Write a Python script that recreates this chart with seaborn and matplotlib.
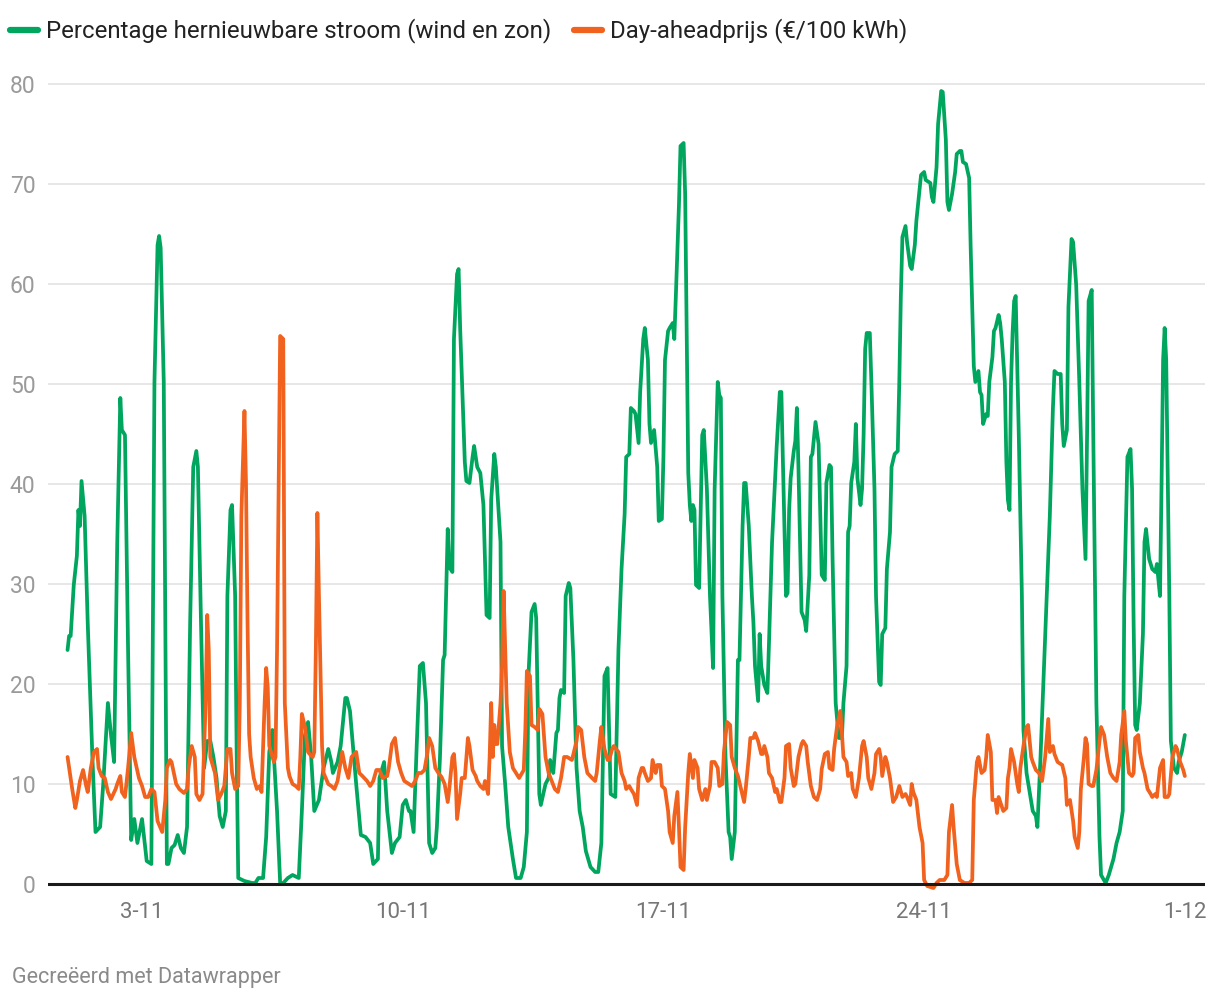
import matplotlib
matplotlib.use("Agg")
import matplotlib.pyplot as plt
import seaborn as sns
import pandas as pd
import numpy as np

# ---------------- data (hours since 1 Nov 00:00) ----------------
start = pd.Timestamp("2023-11-01 00:00")

green_hours = [0,1,2,4,6,7,8,9,11,13,16,18,21,23,26,28,30,32,34,35,37,39,41,43,45,48,51,54,56,58,59,60,62,64,65,67,69,71,73,75,77,79,81,83,84,86,88,90,92,94,96,98,100,102,103,105,106,108,109,110,114,119,121,123,126,128,130,132,135,137,139,142,145,149,151,153,155,157,159,162,165,168,170,171,174,176,179,180,182,186,189,192,195,197,200,201,204,206,209,211,214,216,218,220,221,223,225,227,229,231,233,235,237,238,240,242,243,245,246,248,249,251,252,253,256,257,259,261,262,264,266,268,270,272,273,275,276,279,280,282,284,287,289,292,294,296,297,299,301,302,304,305,308,310,311,313,315,316,317,318,320,321,323,324,326,328,330,332,334,337,340,342,344,346,348,350,353,355,357,359,360,362,363,365,366,368,369,371,372,374,375,376,378,380,381,383,384,385,387,388,390,391,392,394,395,397,398,400,401,402,403,404,405,407,409,410,412,414,416,417,419,420,421,422,424,426,427,428,430,432,433,435,436,437,439,441,442,443,445,446,447,449,451,452,454,457,459,460,461,463,464,465,466,468,469,470,471,473,475,476,478,479,480,482,484,486,488,489,491,492,493,495,497,499,500,502,503,504,505,507,508,509,511,512,513,514,515,517,518,520,521,523,524,525,527,528,530,531,533,535,536,537,538,540,541,543,544,546,547,549,550,552,553,556,557,558,560,561,563,564,566,567,568,570,572,573,575,576,577,579,581,582,584,585,587,588,589,590,592,593,594,596,597,598,600,601,602,604,605,606,607,608,609,610,611,613,615,616,618,620,622,624,625,627,629,631,633,635,636,638,640,641,642,644,645,647,648,650,652,654,656,657,658,660,661,663,665,666,669,671,674,676,678,680,681,683,685,686,687,688,689,691,693,694,695,697,699,701,702,704,705,706,707,708,710,711,713,715,716,718,720]
green_values = [23.4,24.8,24.8,29.9,32.8,37.4,35.8,40.3,36.8,26.1,12.7,5.2,5.7,10,18.1,14.9,12.2,34,48.6,45.4,44.9,23.4,4.4,6.5,4.1,6.5,2.3,2.0,50.2,63.9,64.8,63.6,50.2,2,2,3.6,3.9,4.9,3.6,3.1,5.7,26.1,41.7,43.3,41.7,26.1,11.6,14.3,14.3,12.7,10.6,6.8,5.7,7.3,28.8,37.4,37.9,28.8,12.7,0.6,0.3,0.1,0.1,0.6,0.6,4.7,13.2,15.4,7.3,0.1,0.1,0.6,0.9,0.6,7.3,14.9,16.2,12.7,7.3,8.4,11.6,13.5,12.2,11.1,12.2,13.8,18.6,18.6,17.3,10,4.9,4.7,4.1,2,2.5,10.6,12.2,7.3,3.1,4.1,4.7,7.9,8.4,7.3,7.3,5.2,13.8,21.8,22.1,18.1,4.1,3.1,3.6,5.7,12.7,22.4,22.9,35.5,31.7,31.2,54.5,61,61.5,55.6,42.2,40.3,40.1,42.7,43.8,41.7,41.1,37.9,26.9,26.6,38.4,43,41.7,34.2,13.8,10,5.7,2.5,0.6,0.6,1.7,5.2,20.8,27.2,28,26.6,9,7.9,10,10.6,12.4,11.1,15.1,15.4,18.6,19.4,19.1,28.8,30.1,29.6,22.4,11.6,7.3,5.7,3.3,1.7,1.2,1.2,4.1,20.8,21.6,9,8.7,23.4,31.5,37,42.7,43,47.6,47.3,47,44.1,49.2,54.5,55.6,52.4,46,44.1,45.4,41.7,36.3,36.5,42.7,52.4,55.3,55.6,56.1,54.5,58.8,67.9,73.8,74.1,69,41.1,37.9,36.3,37.9,37.4,29.9,29.6,44.9,45.4,39.5,28.8,21.6,39.5,50.2,48.9,48.6,28.8,12.7,5.2,4.7,2.5,5.2,22.4,22.4,35.8,40.1,40.1,35.8,28.8,26.1,21.8,18.3,25,21.8,19.9,19.1,24,34.2,43.8,49.2,49.2,42.2,28.8,29.1,37.4,40.6,43.3,44.3,47.6,41.7,27.2,26.4,25.3,30.9,42.7,43,46.2,44,30.9,30.4,40.1,41.9,41.7,32.5,18.1,14.6,14.6,18.1,21.8,35.2,35.8,40.1,42.2,46,40.6,37.9,39.5,44.9,53.5,55.1,55.1,50.2,39.5,28.8,20.2,19.9,25,25.6,31.5,35.2,41.7,43,43.3,50.2,58.8,64.7,65.8,64.2,61.8,61.5,63.9,66.3,69.3,70.9,71.2,70.4,70.1,68.7,68.2,71.7,76,79.3,79.2,74.4,68.2,67.4,69,71.2,73,73.3,73.3,72.2,72,70.6,63.6,51.8,50.2,51.3,49.2,48.9,46,47,46.8,50.2,52.7,55.3,55.6,56.9,56.1,54.5,50.2,42.2,38.4,37.4,50.2,55.1,58.3,58.8,44.9,28.8,15.4,11.1,9.2,7.3,6.8,5.7,12.7,20.8,28.8,36.8,47.6,51.3,51,51,46,43.8,45.4,57.7,64.5,64.2,59.9,50.2,39.5,32.5,44.9,58.3,59.4,44.9,18.1,4.7,0.9,0.1,0.9,2.5,4.1,5.2,7.3,28.8,42.7,43.5,39.5,26.1,15.9,15.4,18.1,25,34.2,35.5,32.5,31.5,31.2,32,28.8,40,52.4,55.6,52.4,28.8,14.3,11.6,11.1,12.2,13.2,14.9]

price_hours = [0,3,5,6,8,10,12,13,15,17,19,20,22,24,26,28,31,32,34,35,37,39,41,43,46,48,50,52,54,56,58,61,63,64,66,67,70,72,75,77,78,80,82,83,85,87,89,90,91,92,95,97,99,101,103,105,106,108,110,111,112,114,115,116,117,118,120,122,124,125,127,128,129,130,133,134,135,136,137,139,140,142,143,145,147,149,150,151,153,155,156,158,159,160,161,162,164,165,168,170,172,174,177,179,181,183,186,188,190,193,195,197,199,201,203,206,207,209,211,213,215,217,220,222,224,226,228,230,232,233,235,237,239,241,243,245,246,248,249,250,251,253,254,256,258,259,261,263,264,266,268,269,271,272,273,274,275,276,277,279,280,281,283,285,287,289,291,294,295,296,298,299,301,303,304,306,308,310,312,314,316,318,319,320,322,325,326,328,329,331,333,335,338,340,341,343,344,346,348,349,351,352,355,357,359,360,362,363,365,367,368,370,371,372,374,376,377,379,380,382,383,385,387,388,390,391,393,394,395,397,398,400,401,403,404,406,407,409,411,412,414,415,417,419,420,422,423,425,427,428,430,432,434,436,437,439,440,442,443,445,447,448,449,451,452,454,456,457,459,460,462,463,465,466,468,469,471,473,474,476,477,479,481,483,485,486,488,490,491,493,494,496,498,499,500,502,503,505,506,508,510,512,513,515,516,518,520,521,523,524,525,527,528,530,532,534,536,538,540,541,543,544,545,547,549,551,552,554,558,560,562,565,567,568,570,571,573,575,578,581,583,584,586,587,589,591,592,593,595,596,598,599,600,603,605,606,607,608,610,612,613,614,616,618,619,621,622,624,626,628,630,632,633,635,636,638,641,643,644,646,648,649,651,652,653,655,656,657,658,660,661,663,665,666,668,670,672,674,676,678,679,681,682,684,686,687,688,690,691,693,694,696,698,699,701,702,704,706,707,709,710,712,714,715,717,719,720]
price_values = [12.7,9.5,7.6,8.4,10.3,11.4,9.8,9.2,11.6,13.2,13.5,11.6,10.8,10.6,9.2,8.5,9.5,10,10.8,9.2,8.7,11.6,15.1,12.7,10.6,9.8,8.7,8.7,9.5,9.2,6.3,5.2,8.4,11.6,12.4,12.2,10,9.5,9.1,9.5,11.6,13.8,12.7,9,8.4,9,18.1,26.9,23.4,12.7,11.1,8.4,9,9.8,13.5,13.5,11.1,9.5,9.8,18.1,36.8,47.3,40,26,15,12.7,10.6,9.5,9.8,9.2,18.1,21.6,19.7,13.8,12.2,12.7,23.4,39.5,54.8,54.5,18.1,11.6,10.8,10,9.8,9.5,12.7,17,15.7,13.2,13,12.7,13.2,23.4,37.1,28.8,13.8,11.1,10,9.8,9.5,10.3,13.2,11.6,10.6,12.7,13.2,11.1,10.8,10.3,9.8,10.3,11.4,11.4,10.6,10.8,11.6,14,14.6,12.2,11.1,10.3,10,9.8,10.3,11.1,11.1,11.4,13.2,14.6,13.8,11.6,11.1,10.7,10,8.2,9.5,12.7,13,11.1,6.5,9,10.6,10.6,14.6,13.8,11.4,10.8,10.3,9.8,9.5,10.3,9,12.7,18.1,12.7,15.9,14,14,18.1,21.8,29.3,18.1,13.2,11.6,11.1,10.6,11.4,15.4,21.3,20.8,15.9,15.7,15.4,17.5,17,12.7,11.1,10.3,9.5,9.2,10.6,11.6,12.7,12.7,12.4,13,14.3,15.7,15.4,12.7,11.1,10.6,10.3,11.1,14.3,15.7,13.5,12.4,12.4,13.5,13.8,13.2,11.1,10.3,9.5,9.8,9.5,9,7.9,10.6,11.6,11.6,11.1,10.3,10.6,12.4,11.1,11.9,11.9,9.8,9.5,7.3,5.2,4.1,6.8,9.2,5.7,1.7,1.4,5.7,11.1,13,10.6,12.4,11.6,9.5,8.4,9.5,8.4,9.8,12.2,12.2,11.6,9.8,10,13.2,16.2,15.9,12.7,11.6,10.8,9.5,8.2,9.5,12.7,14.6,14.6,15.1,14.3,13,13,13.8,12.7,11.1,10.6,9.2,9.5,8.2,8.2,10.6,13.8,14,11.6,9.8,10,12.7,14,14.3,13.8,12.2,9.8,8.7,8.4,9.5,11.5,13,13.2,11.6,11.4,13.5,15.9,17.3,15.1,12.7,12.2,10.8,11.1,9.5,8.7,10.6,13.8,14.3,12.7,10.6,9.5,11.1,13,13.5,12.7,10.8,12.7,12.2,10.6,8.2,8.7,9.8,8.7,9,8.7,7.9,10,9.2,8.4,5.7,4.1,0.4,-0.2,-0.4,0.1,0.4,0.4,0.9,5.2,7.9,5.7,2,0.4,0.1,0.1,0.4,8.4,12.2,12.7,11.1,11.4,12.7,14.9,13.2,8.4,8.4,7.1,8.7,7.3,7.6,10.6,11.6,13.5,12.2,10,9.2,11.6,13.8,15.7,15.9,12.7,12.2,11.4,11.1,10.3,12.7,16.5,13.2,13.8,13,12.2,11.9,10.6,7.9,8.4,6.3,4.7,3.6,5.2,9.5,12.7,14.6,14,10,9.8,9.8,11.4,14.3,15.7,14.9,12.7,11.1,10.6,10.3,12.2,14.9,17.3,14.3,11.1,10.8,11.1,14.6,14.9,13.2,11.6,11.1,9.5,9,8.7,9,8.7,11.6,12.4,8.7,8.7,9,12.7,13.8,13.5,12.2,11.4,10.8]

series_labels = ["Percentage hernieuwbare stroom (wind en zon)", "Day-aheadprijs (€/100 kWh)"]
tick_dates = ["2023-11-03", "2023-11-10", "2023-11-17", "2023-11-24", "2023-12-01"]
tick_labels = ["3-11", "10-11", "17-11", "24-11", "1-12"]
y_ticks = [0, 10, 20, 30, 40, 50, 60, 70, 80]
footer = "Gecreëerd met Datawrapper"

green_df = pd.DataFrame({"time": start + pd.to_timedelta(green_hours, unit="h"), "value": green_values})
price_df = pd.DataFrame({"time": start + pd.to_timedelta(price_hours, unit="h"), "value": price_values})

# ---------------- style ----------------
sns.set_theme(style="white")
plt.rcParams["font.family"] = ["Roboto", "DejaVu Sans"]

GREEN = "#00a65e"
ORANGE = "#f0621d"

fig = plt.figure(figsize=(12.2, 10), dpi=100)
ax = fig.add_axes([48/1220, 1-890/1000, (1205-48)/1220, (890-69)/1000])

sns.lineplot(data=green_df, x="time", y="value", ax=ax, color=GREEN, linewidth=2.7,
             label=series_labels[0], estimator=None, zorder=3)
sns.lineplot(data=price_df, x="time", y="value", ax=ax, color=ORANGE, linewidth=2.7,
             label=series_labels[1], estimator=None, zorder=4)

ax.set_ylim(-0.6, 81.5)
ax.set_xlim(start - pd.Timedelta(hours=12.6), start + pd.Timedelta(hours=733))
ax.set_yticks(y_ticks)
ax.set_yticklabels([str(v) for v in y_ticks])
ax.set_xticks(pd.to_datetime(tick_dates))
ax.set_xticklabels(tick_labels)
ax.set_xlabel("")
ax.set_ylabel("")

for s in ax.spines.values():
    s.set_visible(False)
ax.grid(axis="y", color="#e3e3e3", linewidth=1.2, zorder=0)
ax.grid(axis="x", visible=False)
ax.axhline(0, color="#1a1a1a", linewidth=2.2, zorder=5)

ax.tick_params(axis="y", length=0, pad=9, labelsize=16.5, labelcolor="#9a9a9a")
ax.tick_params(axis="x", length=0, pad=9, labelsize=16, labelcolor="#777777")
for lab in ax.get_yticklabels():
    lab.set_horizontalalignment("right")

handles, labels = ax.get_legend_handles_labels()
if ax.get_legend() is not None:
    ax.get_legend().remove()
leg = fig.legend(handles, labels, loc="center left", bbox_to_anchor=(10/1220, 1-31/1000),
                 ncol=2, frameon=False, fontsize=17.3, handlelength=1.15, handletextpad=0.35,
                 columnspacing=0.95, borderpad=0, borderaxespad=0)
for h in leg.legend_handles:
    h.set_linewidth(4.5)
    h.set_solid_capstyle("round")
for t in leg.get_texts():
    t.set_color("#222222")

fig.text(12/1220, 1-977/1000, footer, ha="left", va="center", fontsize=15.5, color="#8a8a8a")

fig.savefig("out.png", dpi=100)
